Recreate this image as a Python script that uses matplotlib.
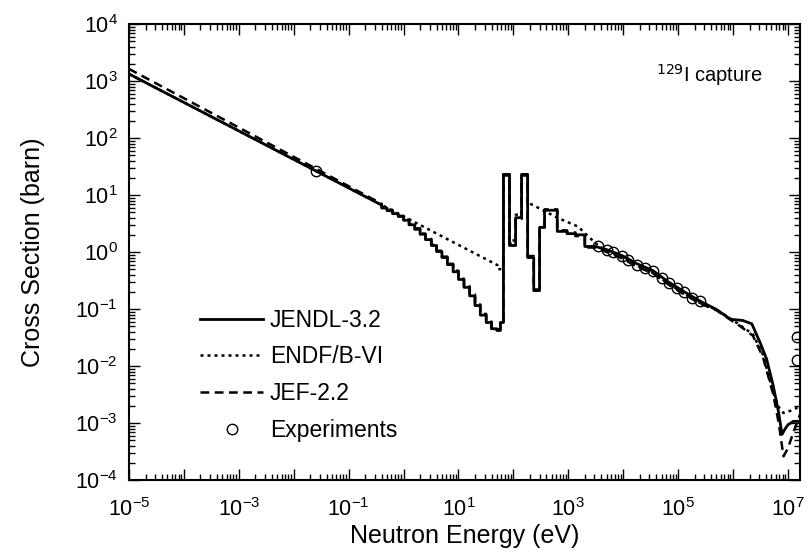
import numpy as np
import matplotlib
matplotlib.use("Agg")
import matplotlib.pyplot as plt
from matplotlib.ticker import LogLocator, NullFormatter

plt.rcParams['font.family'] = ['Liberation Sans', 'DejaVu Sans']

# --- data (energies in eV, cross sections in barn) ---

# JENDL-3.2: 1/v part, stepped part, smooth high-energy part
jendl_low_e = [1e-5, 0.4]
jendl_low_s = [1330, 6.65]
jendl_step_edges = [0.4, 0.5, 0.63, 0.8, 1.0, 1.26, 1.6, 2.0, 2.5, 3.2,
                    4.0, 5.0, 6.3, 8.0, 10, 12.6, 16, 20, 25, 32,
                    40, 50, 58, 66, 85, 110, 141, 182, 235, 300,
                    370, 630, 950, 1350, 2000, 3000]
jendl_step_vals = [5.9, 5.3, 4.7, 4.2, 3.6, 3.0, 2.5, 2.05, 1.65,
                   1.3, 1.02, 0.80, 0.60, 0.45, 0.33, 0.24, 0.17, 0.115, 0.078,
                   0.058, 0.045, 0.042, 0.058, 23, 1.3, 4.0, 23, 0.8, 0.21,
                   2.7, 5.4, 2.3, 2.1, 2.0, 1.25]
jendl_high_e = [3000, 5000, 9400, 1.8e4, 3.5e4, 6.6e4, 1.3e5, 2.5e5, 5.0e5,
                7.6e5, 9e5, 1.5e6, 2.2e6, 3.1e6, 4.1e6, 5.4e6, 6.8e6, 7.8e6,
                8.9e6, 1.0e7, 1.26e7, 1.66e7]
jendl_high_s = [1.26, 1.10, 0.87, 0.62, 0.47, 0.30, 0.20, 0.138, 0.098,
                0.074, 0.066, 0.063, 0.055, 0.026, 0.0132, 0.0045, 0.0015,
                6.3e-4, 7.9e-4, 9.3e-4, 1.07e-3, 1.07e-3]

# ENDF/B-VI
endf_low_e = [1e-5, 51]
endf_low_s = [1330, 0.59]
endf_step_edges = [51, 66, 85, 110, 141, 182]
endf_step_vals = [0.5, 23, 1.6, 4.5, 23]
endf_high_e = [182, 300, 630, 1500, 3200, 5000, 9400, 1.8e4, 3.5e4, 6.6e4,
               1.3e5, 2.5e5, 5.0e5, 7.6e5, 1.35e6, 2.3e6, 3.5e6, 5.4e6,
               6.8e6, 8.3e6, 1.26e7, 1.66e7]
endf_high_s = [7.4, 5.8, 4.0, 2.8, 1.4, 1.05, 0.80, 0.57, 0.43, 0.28,
               0.185, 0.128, 0.097, 0.075, 0.052, 0.036, 0.016, 0.0034,
               0.0019, 0.0015, 0.0017, 0.0020]

# JEF-2.2
jef_low_e = [1e-5, 0.4]
jef_low_s = [1630, 7.0]
jef_step_edges = jendl_step_edges
jef_step_vals = [6.2, 5.5, 4.9, 4.3, 3.7, 3.1, 2.6, 2.1, 1.7,
                 1.35, 1.05, 0.83, 0.62, 0.47, 0.34, 0.25, 0.18, 0.12, 0.082,
                 0.060, 0.047, 0.044, 0.060, 22, 1.4, 3.8, 22, 0.85, 0.22,
                 2.6, 5.6, 2.4, 2.2, 1.9, 1.2]
jef_high_e = [3000, 5000, 9400, 1.8e4, 3.5e4, 6.6e4, 1.3e5, 2.5e5, 5.0e5,
              7.6e5, 1.35e6, 2.3e6, 3.5e6, 5.4e6, 6.8e6, 8.3e6, 1.0e7,
              1.26e7, 1.66e7]
jef_high_s = [1.2, 1.0, 0.78, 0.55, 0.42, 0.27, 0.18, 0.125, 0.095,
              0.072, 0.050, 0.034, 0.0145, 0.0032, 0.0010, 2.6e-4, 3.6e-4,
              6.9e-4, 1.4e-3]

# Experiments
exp_e = [0.0253, 3500, 5000, 6600, 9400, 1.24e4, 1.8e4, 2.5e4, 3.5e4,
         5.0e4, 6.7e4, 9.5e4, 1.29e5, 1.77e5, 2.5e5, 1.45e7, 1.45e7]
exp_s = [26, 1.29, 1.10, 0.99, 0.86, 0.71, 0.60, 0.53, 0.46,
         0.35, 0.29, 0.235, 0.197, 0.157, 0.137, 0.032, 0.0126]

x_ticks = [10.0 ** k for k in range(-5, 8)]
x_labels = [r'$\mathdefault{10^{%d}}$' % k if k % 2 else '' for k in range(-5, 8)]
y_ticks = [10.0 ** k for k in range(-4, 5)]
y_labels = [r'$\mathdefault{10^{%d}}$' % k for k in range(-4, 5)]


def steps(edges, vals):
    xs, ys = [], []
    for i, v in enumerate(vals):
        xs += [edges[i], edges[i + 1]]
        ys += [v, v]
    return xs, ys


def join(low_e, low_s, edges, vals, high_e, high_s):
    sx, sy = steps(edges, vals)
    return low_e + sx + high_e, low_s + sy + high_s


fig = plt.figure(figsize=(8.07, 5.6), dpi=100)
ax = fig.add_axes([129 / 807, 80 / 560, 671 / 807, 456 / 560])

x, y = join(jendl_low_e, jendl_low_s, jendl_step_edges, jendl_step_vals,
            jendl_high_e, jendl_high_s)
ax.plot(x, y, color='black', lw=2.0, label='JENDL-3.2')

x, y = join(endf_low_e, endf_low_s, endf_step_edges, endf_step_vals,
            endf_high_e, endf_high_s)
ax.plot(x, y, color='black', lw=1.8, ls=(0, (1.2, 1.6)), label='ENDF/B-VI')

x, y = join(jef_low_e, jef_low_s, jef_step_edges, jef_step_vals,
            jef_high_e, jef_high_s)
ax.plot(x, y, color='black', lw=1.8, ls=(0, (3.5, 2.2)), label='JEF-2.2')

ax.plot(exp_e, exp_s, ls='none', marker='o', ms=7.5, mfc='none',
        mec='black', mew=1.0, label='Experiments')

ax.set_xscale('log')
ax.set_yscale('log')
ax.set_xlim(1e-5, 1.66e7)
ax.set_ylim(1e-4, 1e4)

ax.set_xticks(x_ticks)
ax.set_xticklabels(x_labels)
ax.set_yticks(y_ticks)
ax.set_yticklabels(y_labels)
ax.xaxis.set_minor_locator(LogLocator(base=10, subs=range(2, 10), numticks=30))
ax.yaxis.set_minor_locator(LogLocator(base=10, subs=range(2, 10), numticks=30))
ax.xaxis.set_minor_formatter(NullFormatter())
ax.yaxis.set_minor_formatter(NullFormatter())
ax.tick_params(which='both', direction='in', top=True, right=True,
               labelsize=15.5, width=1.0)
ax.tick_params(axis='x', which='major', length=8, pad=13)
ax.tick_params(axis='y', which='major', length=8, pad=8)
ax.tick_params(which='minor', length=4)
for s in ax.spines.values():
    s.set_linewidth(1.5)

ax.set_xlabel('Neutron Energy (eV)', fontsize=18, labelpad=2)
ax.set_ylabel('Cross Section (barn)', fontsize=18, labelpad=22)

ax.text(0.945, 0.888, r'$^{129}$I capture', transform=ax.transAxes,
        ha='right', va='center', fontsize=14.5)

ax.legend(loc='upper left', bbox_to_anchor=(0.106, 0.376), frameon=False,
          fontsize=16.5, handlelength=2.75, handletextpad=0.3,
          labelspacing=0.6, borderpad=0, borderaxespad=0)

fig.savefig('out.png', dpi=100)
